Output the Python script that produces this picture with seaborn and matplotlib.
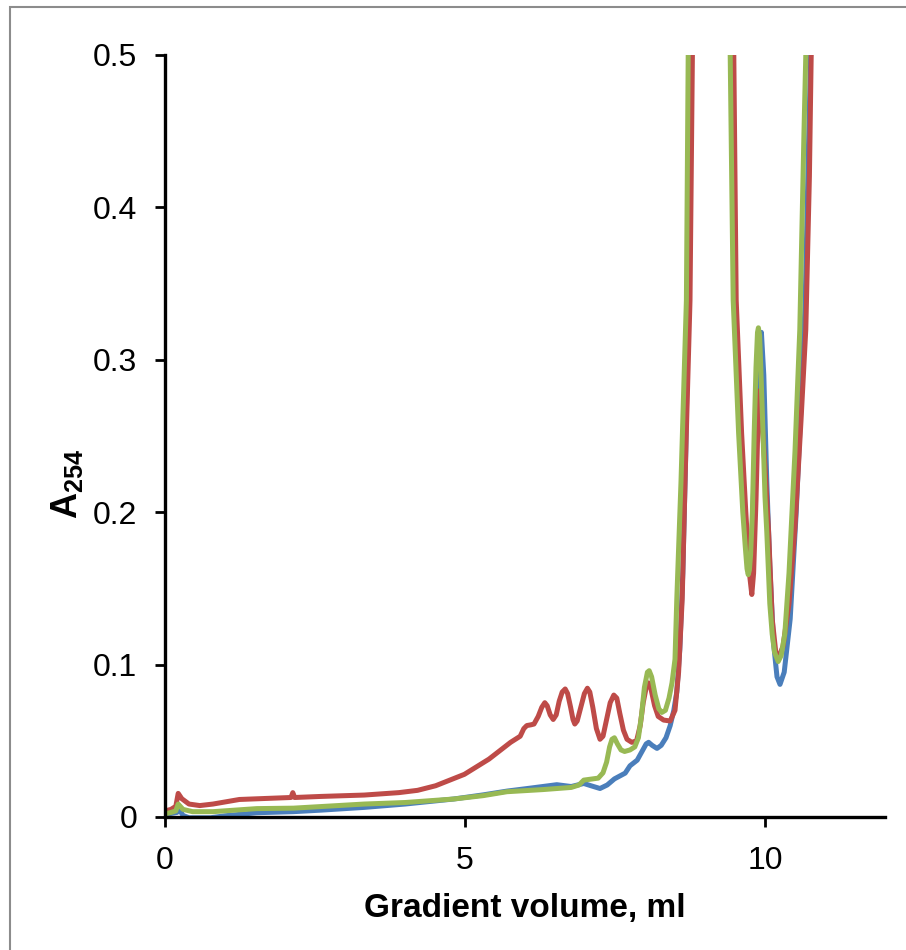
import numpy as np
import pandas as pd
import matplotlib
matplotlib.use('Agg')
import matplotlib.pyplot as plt
from matplotlib.patches import Rectangle
import seaborn as sns

# Data (gradient volume in ml, A254)
blue_x = [0.0, 0.05, 0.2, 0.24, 0.3, 0.4, 0.76, 1.0, 1.53, 2.14, 2.6, 3.32, 4.0, 4.81, 5.3, 5.7,
          6.1, 6.53, 6.77, 6.98, 7.1, 7.25, 7.37, 7.49, 7.67, 7.75, 7.87, 7.95, 8.02, 8.06, 8.12,
          8.2, 8.27, 8.35, 8.42, 8.48, 8.53, 8.58, 8.63, 8.68, 8.72, 8.77, 8.85, 9.1, 9.4, 9.46,
          9.50, 9.59, 9.66, 9.71, 9.74, 9.78, 9.84, 9.9, 9.94, 9.98, 10.03, 10.08, 10.14, 10.2,
          10.25, 10.32, 10.42, 10.52, 10.6, 10.67, 10.73, 10.76, 10.85, 11.0]
blue_y = [0.001, 0.002, 0.003, 0.0048, 0.001, -0.0005, -0.0005, 0.0008, 0.0028, 0.0035, 0.0045,
          0.0063, 0.0085, 0.0118, 0.0145, 0.017, 0.019, 0.0212, 0.020, 0.022, 0.0205, 0.0187,
          0.021, 0.025, 0.0288, 0.0336, 0.0373, 0.043, 0.048, 0.049, 0.047, 0.045, 0.047, 0.052,
          0.060, 0.07, 0.082, 0.11, 0.16, 0.24, 0.339, 0.5, 0.8, 1.2, 0.8, 0.5, 0.339, 0.252, 0.2,
          0.165, 0.162, 0.18, 0.25, 0.305, 0.318, 0.29, 0.22, 0.165, 0.115, 0.092, 0.087, 0.095,
          0.13, 0.2, 0.27, 0.339, 0.45, 0.5, 0.8, 1.1]

red_x = [0.0, 0.1, 0.18, 0.22, 0.28, 0.4, 0.58, 0.8, 1.24, 1.7, 2.1, 2.13, 2.16, 2.6, 3.32, 3.9,
         4.21, 4.51, 4.99, 5.4, 5.76, 5.92, 5.98, 6.03, 6.1, 6.15, 6.22, 6.28, 6.33, 6.37, 6.42,
         6.47, 6.52, 6.57, 6.62, 6.67, 6.71, 6.76, 6.8, 6.83, 6.87, 6.93, 6.99, 7.04, 7.08, 7.13,
         7.19, 7.25, 7.3, 7.36, 7.42, 7.48, 7.53, 7.58, 7.64, 7.7, 7.78, 7.86, 7.92, 7.97, 8.02,
         8.06, 8.1, 8.16, 8.22, 8.31, 8.42, 8.5, 8.56, 8.62, 8.68, 8.75, 8.79, 8.85, 9.1, 9.4,
         9.48, 9.52, 9.61, 9.68, 9.74, 9.78, 9.81, 9.85, 9.89, 9.92, 9.95, 10.0, 10.06, 10.12,
         10.18, 10.23, 10.3, 10.4, 10.5, 10.6, 10.68, 10.74, 10.77, 10.85, 11.0]
red_y = [0.004, 0.005, 0.007, 0.0155, 0.012, 0.0085, 0.0075, 0.0085, 0.0115, 0.0122, 0.0128,
         0.016, 0.0128, 0.0135, 0.0144, 0.016, 0.0175, 0.0205, 0.028, 0.038, 0.049, 0.053, 0.058,
         0.060, 0.0605, 0.061, 0.066, 0.072, 0.075, 0.073, 0.067, 0.064, 0.067, 0.076, 0.082,
         0.084, 0.081, 0.072, 0.064, 0.061, 0.063, 0.072, 0.081, 0.0845, 0.082, 0.072, 0.058,
         0.051, 0.053, 0.064, 0.075, 0.080, 0.078, 0.068, 0.057, 0.051, 0.049, 0.050, 0.06, 0.075,
         0.085, 0.088, 0.084, 0.073, 0.066, 0.0636, 0.063, 0.07, 0.095, 0.143, 0.24, 0.339, 0.5,
         0.8, 1.2, 0.8, 0.5, 0.339, 0.252, 0.2, 0.16, 0.146, 0.16, 0.208, 0.27, 0.28, 0.26, 0.23,
         0.187, 0.13, 0.108, 0.105, 0.112, 0.14, 0.19, 0.26, 0.32, 0.42, 0.5, 0.8, 1.1]

green_x = [0.0, 0.1, 0.18, 0.22, 0.3, 0.46, 0.8, 1.53, 2.14, 3.32, 4.0, 4.81, 5.3, 5.7, 6.3,
           6.77, 6.9, 6.98, 7.22, 7.3, 7.36, 7.41, 7.45, 7.49, 7.54, 7.6, 7.66, 7.75, 7.83, 7.89,
           7.94, 7.99, 8.04, 8.07, 8.11, 8.17, 8.23, 8.28, 8.34, 8.4, 8.45, 8.5, 8.53, 8.6, 8.66,
           8.69, 8.72, 8.78, 9.05, 9.35, 9.42, 9.47, 9.56, 9.63, 9.67, 9.7, 9.72, 9.74, 9.76, 9.79,
           9.82, 9.85, 9.875, 9.89, 9.91, 9.93, 9.96, 10.0, 10.03, 10.08, 10.12, 10.16, 10.22,
           10.27, 10.33, 10.4, 10.5, 10.58, 10.65, 10.68, 10.78, 11.0]
green_y = [0.002, 0.003, 0.004, 0.0085, 0.005, 0.0035, 0.0035, 0.0055, 0.0058, 0.0085, 0.0095,
           0.0118, 0.014, 0.0166, 0.018, 0.0194, 0.021, 0.0242, 0.0255, 0.029, 0.036, 0.046, 0.051,
           0.052, 0.048, 0.044, 0.043, 0.044, 0.046, 0.052, 0.066, 0.085, 0.095, 0.096, 0.092,
           0.08, 0.071, 0.0686, 0.07, 0.078, 0.088, 0.1035, 0.143, 0.22, 0.3, 0.339, 0.5, 0.8, 1.2,
           0.8, 0.5, 0.339, 0.252, 0.2, 0.178, 0.163, 0.159, 0.162, 0.172, 0.2, 0.252, 0.295,
           0.318, 0.321, 0.316, 0.295, 0.26, 0.21, 0.187, 0.14, 0.12, 0.108, 0.102, 0.106, 0.12,
           0.16, 0.24, 0.32, 0.45, 0.5, 0.8, 1.1]

series_names = ['blue', 'red', 'green']
series_colors = ['#4A7EBB', '#BE4B48', '#98B954']

x_ticks = [0, 5, 10]
y_ticks = [0, 0.1, 0.2, 0.3, 0.4, 0.5]
y_tick_labels = ['0', '0.1', '0.2', '0.3', '0.4', '0.5']

df = pd.concat([
    pd.DataFrame({'x': blue_x, 'y': blue_y, 'run': 'blue'}),
    pd.DataFrame({'x': red_x, 'y': red_y, 'run': 'red'}),
    pd.DataFrame({'x': green_x, 'y': green_y, 'run': 'green'}),
], ignore_index=True)

sns.set_style('ticks')
plt.rcParams['font.family'] = ['Liberation Sans', 'DejaVu Sans']
plt.rcParams['mathtext.fontset'] = 'custom'
plt.rcParams['mathtext.rm'] = 'Liberation Sans'
plt.rcParams['mathtext.bf'] = 'Liberation Sans:bold'
for key in ['text.color', 'axes.labelcolor', 'xtick.color', 'ytick.color']:
    plt.rcParams[key] = 'black'

fig = plt.figure(figsize=(9.06, 9.5), dpi=100)
ax = fig.add_axes([165 / 906, 1 - 817 / 950, 720 / 906, 762 / 950])

sns.lineplot(data=df, x='x', y='y', hue='run', hue_order=series_names,
             palette=series_colors, sort=False, estimator=None, units='run',
             legend=False, linewidth=3.6, ax=ax)

ax.set_xlim(0, 12)
ax.set_ylim(0, 0.5)
ax.set_xticks(x_ticks)
ax.set_xticklabels([str(t) for t in x_ticks])
ax.set_yticks(y_ticks)
ax.set_yticklabels(y_tick_labels)
ax.tick_params(axis='both', labelsize=23, width=2, length=7, color='black', direction='out')
ax.tick_params(axis='y', pad=13)
ax.tick_params(axis='x', pad=14)

sns.despine(ax=ax)
for side in ['left', 'bottom']:
    ax.spines[side].set_linewidth(2.4)
    ax.spines[side].set_color('black')

ax.set_xlabel('Gradient volume, ml', fontsize=24, fontweight='bold')
ax.set_ylabel(r'A$_{\mathbf{254}}$', fontsize=26, fontweight='bold')
ax.xaxis.set_label_coords(0.5, -0.100)
ax.yaxis.set_label_coords(-0.111, 0.437)

# gray frame around the chart area
fig.patches.append(Rectangle((10 / 906, -0.05), 1.2, 1 - 7 / 950 + 0.05, transform=fig.transFigure,
                             fill=False, edgecolor='#8c8c8c', linewidth=1.5, clip_on=False))

fig.savefig('out.png', dpi=100)
